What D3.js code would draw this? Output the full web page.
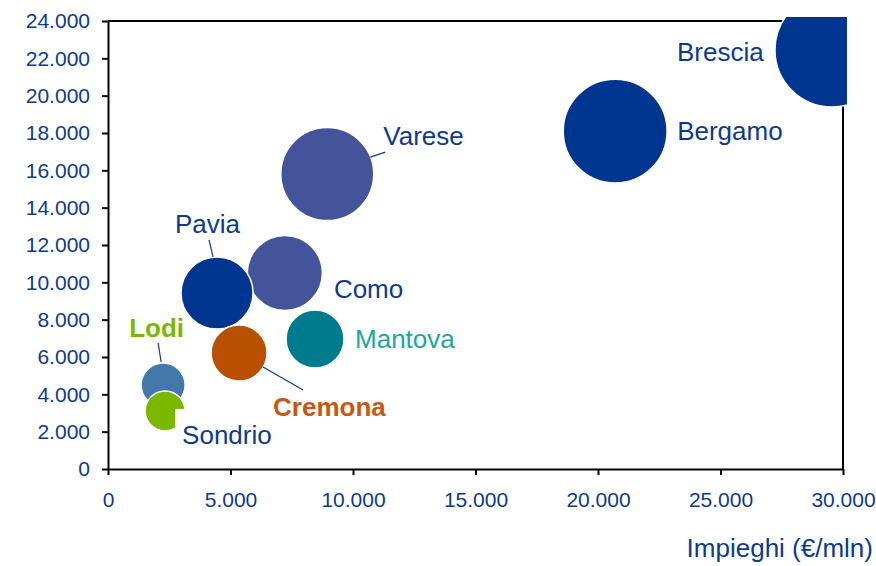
<!DOCTYPE html>
<html>
<head>
<meta charset="utf-8">
<script src="https://cdn.jsdelivr.net/npm/d3@7"></script>
<style>
  html, body { margin: 0; padding: 0; background: #fff; }
  svg { display: block; font-family: "Liberation Sans", Arial, sans-serif; }
</style>
</head>
<body>
<div id="chart"></div>
<script>
// province data (x = impieghi, y = raccolta, size = bubble weight)
const provinces = ["Brescia", "Bergamo", "Varese", "Como", "Pavia", "Mantova", "Cremona", "Lodi", "Sondrio"];
const impieghi = [29550, 20700, 8950, 7220, 4450, 8450, 5350, 2250, 2330];
const raccolta = [22450, 18100, 15800, 10500, 9430, 6960, 6210, 4500, 3110];
const sizes = [100, 83, 66.5, 43.3, 39.9, 25.9, 24.1, 14.9, 12.3];

const xTicks = [0, 5000, 10000, 15000, 20000, 25000, 30000];
const yTicks = [0, 2000, 4000, 6000, 8000, 10000, 12000, 14000, 16000, 18000, 20000, 22000, 24000];
const xTitle = "Impieghi (€/mln)";

const bubbleColors = ["#00368f", "#00368f", "#43549a", "#43549a", "#00368f", "#007b8d", "#b95000", "#4477aa", "#7ab800"];
const labelColors = ["#0d3a8f", "#0d3a8f", "#0d3a8f", "#0d3a8f", "#0d3a8f", "#1aa7a3", "#c8580f", "#7ab800", "#0d3a8f"];
const labelBold = [false, false, false, false, false, false, true, true, false];
// label placement relative to bubble centre: [dx, dy] of text start, optional leader [x1,y1,x2,y2]
const labelPos = [[-155, 11], [62, 9], [56, -29], [49, 25], [-42, -60], [40, 9], [34, 63], [-34, -48], [17, 33]];
const leaders = [null, null, [43, -17, 58, -22], null, [-8, -53, -4, -36], null, [24, 14, 64, 37], [-5, -42, -2, -23], null];

const width = 876, height = 566;
const margin = {top: 21, right: 33, bottom: 97, left: 108};

const svg = d3.select("#chart").append("svg")
    .attr("width", width)
    .attr("height", height);

svg.append("rect").attr("width", width).attr("height", height).attr("fill", "#fff");

const x = d3.scaleLinear().domain([0, 30000]).range([margin.left, width - margin.right]);
const y = d3.scaleLinear().domain([0, 24000]).range([height - margin.bottom, margin.top]);
const r = d3.scaleSqrt().domain([0, 100]).range([0, 57]);

const it = d3.formatLocale({decimal: ",", thousands: ".", grouping: [3], currency: ["€", ""]});
const fmt = it.format(",d");

const tickColor = "#0d3a8f";

// axes
const yAxis = svg.append("g")
    .attr("transform", "translate(" + margin.left + ",0)")
    .call(d3.axisLeft(y).tickValues(yTicks).tickFormat(fmt).tickSize(6).tickSizeOuter(0).tickPadding(12));

const xAxis = svg.append("g")
    .attr("transform", "translate(0," + (height - margin.bottom) + ")")
    .call(d3.axisBottom(x).tickValues(xTicks).tickFormat(fmt).tickSize(6).tickSizeOuter(0).tickPadding(17));

[xAxis, yAxis].forEach(function (a) {
    a.select(".domain").attr("stroke", "#000").attr("stroke-width", 2);
    a.selectAll(".tick line").attr("stroke", "#000").attr("stroke-width", 2);
    a.selectAll(".tick text")
        .attr("fill", tickColor)
        .style("font-size", "21px")
        .style("font-family", "'Liberation Sans', Arial, sans-serif");
});

// top and right border of plot area
svg.append("path")
    .attr("d", "M" + margin.left + "," + y(24000) + "H" + x(30000) + "V" + y(0))
    .attr("fill", "none")
    .attr("stroke", "#000")
    .attr("stroke-width", 2);

svg.append("text")
    .attr("x", 873)
    .attr("y", 557)
    .attr("text-anchor", "end")
    .attr("fill", tickColor)
    .style("font-size", "26px")
    .text(xTitle);

// bubbles
svg.append("clipPath").attr("id", "clip")
    .append("rect").attr("x", 0).attr("y", 17).attr("width", 847).attr("height", height - 17);

const data = provinces.map(function (name, i) {
    return {name: name, x: impieghi[i], y: raccolta[i], size: sizes[i], i: i};
});

svg.append("g")
    .attr("clip-path", "url(#clip)")
    .selectAll("circle")
    .data(data)
    .enter()
    .append("circle")
    .attr("cx", d => x(d.x))
    .attr("cy", d => y(d.y))
    .attr("r", d => r(d.size))
    .attr("fill", d => bubbleColors[d.i])
    .attr("stroke", "#fff")
    .attr("stroke-width", 1.5);

// labels
const labels = svg.append("g");

data.forEach(function (d) {
    const cx = x(d.x), cy = y(d.y);
    const p = labelPos[d.i];
    if (d.name === "Sondrio") {
        // label box hides part of the bubble
        labels.append("rect")
            .attr("x", cx + 10).attr("y", cy - 2)
            .attr("width", 100).attr("height", 45)
            .attr("fill", "#fff");
    }
    const l = leaders[d.i];
    if (l) {
        labels.append("line")
            .attr("x1", cx + l[0]).attr("y1", cy + l[1])
            .attr("x2", cx + l[2]).attr("y2", cy + l[3])
            .attr("stroke", "#0d3a8f")
            .attr("stroke-width", 1.2);
    }
    labels.append("text")
        .attr("x", cx + p[0])
        .attr("y", cy + p[1])
        .attr("fill", labelColors[d.i])
        .style("font-size", "26px")
        .style("font-weight", labelBold[d.i] ? "bold" : "normal")
        .text(d.name);
});
</script>
</body>
</html>
